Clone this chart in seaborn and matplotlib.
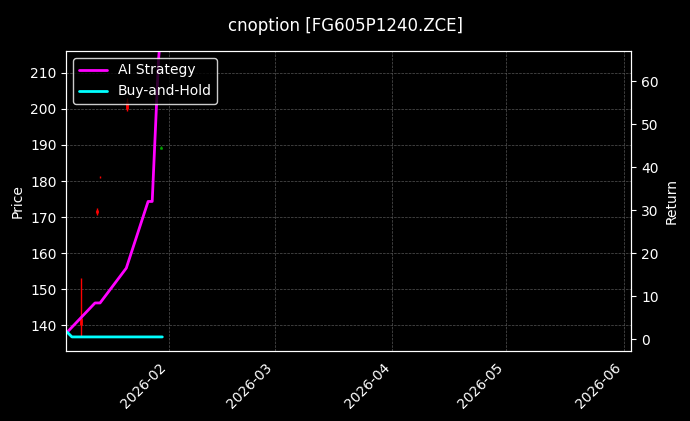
import matplotlib
matplotlib.use("Agg")
import matplotlib.pyplot as plt
import matplotlib.dates as mdates
import seaborn as sns
import pandas as pd

sns.set_style("dark")
plt.style.use("dark_background")
plt.rcParams['font.family'] = ['DejaVu Sans']

candle_dates = ["2026-01-09 00:00", "2026-01-13 00:00", "2026-01-14 00:00", "2026-01-21 00:00", "2026-01-30 00:00"]
candle_open = [142.0, 171.0, 181.0, 200.0, 189.0]
candle_close = [140.0, 172.0, 181.2, 202.0, 189.5]
candle_high = [153.0, 172.5, 181.3, 203.0, 189.8]
candle_low = [137.0, 170.5, 180.9, 199.5, 188.8]
candle_colors = ["red", "red", "red", "red", "#00a000"]

ai_dates = ["2026-01-05 06:00", "2026-01-06 00:00", "2026-01-12 14:00", "2026-01-13 22:00", "2026-01-20 20:00",
            "2026-01-26 14:00", "2026-01-27 16:00", "2026-01-29 08:00", "2026-01-30 00:00"]
ai_ret = [1.6, 2.3, 8.4, 8.4, 16.5, 32.0, 32.0, 65.0, 72.0]
bh_dates = ["2026-01-05 06:00", "2026-01-06 12:00", "2026-01-30 08:00"]
bh_ret = [1.6, 0.5, 0.5]

fig, ax = plt.subplots(figsize=(6.9, 4.21), dpi=100)
fig.patch.set_facecolor("black")
ax.set_facecolor("black")
fig.subplots_adjust(left=0.096, right=0.915, top=0.879, bottom=0.166)

cd = pd.to_datetime(candle_dates)
for d, o, c, h, l, col in zip(cd, candle_open, candle_close, candle_high, candle_low, candle_colors):
    ax.vlines(d, l, h, color=col, linewidth=1)
    ax.vlines(d, min(o, c), max(o, c), color=col, linewidth=2)
ax.set_ylim(132.8, 216.1)
ax.set_ylabel("Price")
ax.grid(True, color="#555555", linestyle="--", linewidth=0.5)

ax2 = ax.twinx()
sns.lineplot(x=pd.to_datetime(ai_dates), y=ai_ret, ax=ax2, color="magenta", linewidth=2, label="AI Strategy")
sns.lineplot(x=pd.to_datetime(bh_dates), y=bh_ret, ax=ax2, color="cyan", linewidth=2, label="Buy-and-Hold")
ax2.set_ylim(-2.8, 67)
ax2.set_ylabel("Return")
ax2.legend(loc="upper left", facecolor="black", edgecolor="white")
ax.set_xlim(pd.Timestamp("2026-01-05"), pd.Timestamp("2026-06-03"))
ax.xaxis.set_major_locator(mdates.MonthLocator())
ax.xaxis.set_major_formatter(mdates.DateFormatter("%Y-%m"))
for t in ax.get_xticklabels():
    t.set_rotation(45); t.set_ha("right")
fig.suptitle("cnoption [FG605P1240.ZCE]", y=0.96)
fig.savefig("out.png", dpi=100, facecolor="black")
